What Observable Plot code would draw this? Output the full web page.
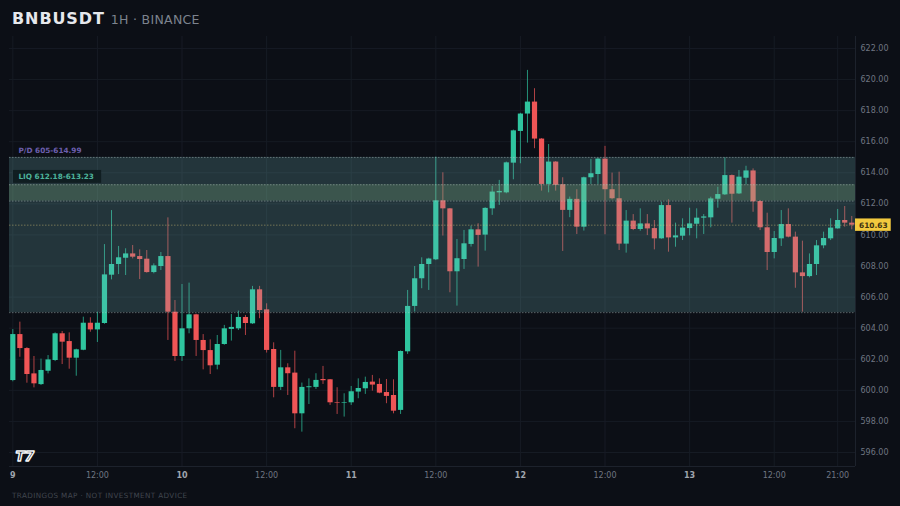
<!DOCTYPE html>
<html>
<head>
<meta charset="utf-8">
<script src="https://cdn.jsdelivr.net/npm/d3@7"></script>
<script src="https://cdn.jsdelivr.net/npm/@observablehq/plot@0.6"></script>
<style>
html,body{margin:0;padding:0;background:#0c0f16;width:900px;height:506px;overflow:hidden;font-family:"DejaVu Sans",sans-serif}
#head{height:36px;box-sizing:border-box;padding:10px 0 0 12px;white-space:nowrap;line-height:18px}
#sym{font-size:16px;font-weight:700;letter-spacing:.9px;color:#e6e8ec}
#sub{font-size:12.5px;letter-spacing:.3px;color:#7d838e;margin-left:6px}
#foot{height:22px;box-sizing:border-box;padding:7px 0 0 12px;font-size:7.2px;letter-spacing:.4px;color:#41464f;line-height:10px;white-space:nowrap}
svg{display:block}
</style>
</head>
<body>
<div id="head"><span id="sym">BNBUSDT</span><span id="sub">1H · BINANCE</span></div>
<div id="chart"></div>
<div id="foot">TRADINGOS MAP · NOT INVESTMENT ADVICE</div>
<script>
const opens = [600.63,603.59,602.69,601.06,600.37,601.23,601.92,603.64,603.14,602.07,602.58,604.32,603.89,604.30,607.41,608.10,608.50,608.78,608.61,608.44,
607.58,607.97,608.61,605.03,602.18,603.96,604.86,603.21,602.56,601.62,602.95,603.92,603.96,604.69,604.28,606.47,605.18,602.63,600.19,601.45,
601.11,598.49,600.17,600.19,600.70,600.68,599.22,599.18,599.20,599.89,600.10,600.53,600.38,599.86,599.67,598.71,602.48,605.40,607.18,608.10,
608.40,612.20,611.68,607.63,608.42,609.39,610.33,609.99,611.68,612.71,612.71,614.62,616.66,617.78,618.55,616.17,613.25,614.69,613.23,611.58,
612.29,610.50,613.68,613.89,614.88,612.91,612.33,609.41,610.89,610.35,610.71,610.41,609.75,611.89,609.81,609.92,610.41,610.69,611.08,611.10,
612.30,612.58,613.82,612.64,613.65,614.12,612.15,610.46,608.87,609.75,610.67,609.86,607.56,607.32,608.10,609.30,609.75,610.39,610.93,610.76];
const highs = [603.91,604.39,602.75,602.18,602.01,602.24,603.70,603.79,603.70,602.65,604.71,604.67,605.03,609.38,611.57,609.26,609.11,609.32,609.04,609.00,
608.14,608.87,611.10,605.78,606.81,606.90,604.90,603.59,603.25,603.53,604.18,604.88,605.10,604.82,606.69,606.69,605.57,603.06,602.57,601.71,
602.52,600.47,600.74,601.07,601.54,600.70,600.17,599.78,600.25,600.74,600.85,600.96,600.74,600.70,600.68,602.54,606.43,607.97,608.53,608.50,
615.01,614.00,611.70,609.71,610.29,610.57,610.72,611.75,613.12,613.51,614.69,616.75,617.83,620.59,619.41,616.20,615.82,614.72,613.68,612.44,
612.91,613.72,614.86,614.92,615.70,613.98,614.04,611.57,611.31,611.68,611.31,610.93,612.11,612.26,610.76,611.04,611.72,611.68,611.31,612.43,
613.07,614.96,613.86,614.15,614.42,614.25,612.22,611.40,610.22,611.57,611.68,610.18,609.60,608.78,609.64,610.18,611.04,611.64,611.83,611.19];
const lows = [600.55,602.13,600.46,600.16,600.31,601.06,601.85,601.66,601.36,600.91,602.55,603.74,603.08,604.25,607.11,607.45,607.39,608.46,607.13,607.54,
607.50,607.71,603.21,601.86,601.86,603.64,602.18,601.32,601.02,601.32,602.90,603.17,603.85,603.53,604.24,604.61,602.40,599.52,599.99,599.67,
597.53,597.31,599.09,600.06,600.38,599.03,598.45,598.28,599.03,599.46,599.74,599.95,599.78,599.14,598.49,598.45,602.31,605.04,606.54,606.43,
608.35,609.93,606.28,605.42,607.78,609.22,607.93,608.96,611.26,611.90,612.65,613.55,614.58,615.91,615.55,612.82,612.71,612.82,608.94,611.11,
610.03,610.25,613.25,613.25,610.01,612.26,609.00,608.83,610.28,610.24,609.96,609.04,609.72,608.89,609.21,609.64,609.94,609.75,610.03,610.46,
611.72,612.54,610.76,612.60,613.22,611.46,610.28,607.71,608.46,609.26,609.81,606.57,605.03,607.24,607.39,609.11,609.64,610.37,610.50,610.33];
const closes = [603.59,602.69,601.02,600.42,601.28,601.96,603.64,603.10,602.07,602.61,604.32,603.89,604.32,607.43,608.10,608.53,608.78,608.57,608.42,607.58,
608.01,608.61,605.03,602.18,603.96,604.86,603.21,602.56,601.58,602.95,603.96,604.05,604.69,604.30,606.47,605.14,602.57,600.19,601.45,601.07,
598.49,600.19,600.23,600.64,600.62,599.20,599.18,599.22,599.91,600.12,600.51,600.34,599.82,599.61,598.66,602.50,605.40,607.18,608.10,608.45,
612.20,611.68,607.63,608.47,609.43,610.33,609.97,611.71,612.76,612.80,614.64,616.70,617.78,618.55,616.17,613.25,614.69,613.19,611.58,612.29,
610.50,613.68,613.94,614.88,612.91,612.33,609.41,610.89,610.35,610.71,610.39,609.75,611.89,609.81,609.94,610.44,610.71,611.08,611.16,612.32,
612.60,613.82,612.62,613.72,614.12,612.13,610.46,608.87,609.77,610.67,609.86,607.56,607.32,608.10,609.30,609.77,610.44,610.93,610.76,610.63];

const dayTicks = [0,24,48,72,96];
const hourTicks = [12,36,60,84,108,117];
const priceTicks = [596,598,600,602,604,606,608,610,612,614,616,618,620,622];
const pdZone = {lo:605, hi:614.99};
const liqZone = {lo:612.18, hi:613.23};
const lastPrice = 610.63;

const at = h => new Date(Date.UTC(2025,0,9) + h*3600000);
const candles = opens.map((o,i)=>({t:at(i),open:o,high:highs[i],low:lows[i],close:closes[i],dir:closes[i]>=o?"up":"down"}));
const zoneLines = [pdZone.lo,pdZone.hi,liqZone.lo,liqZone.hi];
const labelFont = '"DejaVu Sans",sans-serif';

const chart = Plot.plot({
  width:900,height:448,marginTop:0,marginBottom:18,marginLeft:9,marginRight:45,
  style:{background:"transparent",fontFamily:labelFont,fontSize:"8px",overflow:"visible"},
  x:{type:"utc",domain:[at(-0.47),at(119.53)]},
  y:{domain:[595.10,622.77]},
  color:{domain:["up","down"],range:["#2fc59f","#ef5556"]},
  marks:[
    Plot.gridY(priceTicks,{stroke:"#161b24",strokeOpacity:1,strokeWidth:1}),
    Plot.gridX([...dayTicks,...hourTicks].map(at),{stroke:"#161b24",strokeOpacity:1,strokeWidth:1}),
    Plot.ruleX(candles,{x:"t",y1:"low",y2:"high",stroke:"dir",strokeWidth:1,strokeOpacity:.72}),
    Plot.ruleX(candles,{x:"t",y1:"open",y2:"close",stroke:"dir",strokeWidth:5.2}),
    Plot.rect([pdZone],{y1:"lo",y2:"hi",fill:"rgb(120,190,190)",fillOpacity:.22}),
    Plot.rect([liqZone],{y1:"lo",y2:"hi",fill:"rgb(130,185,130)",fillOpacity:.25}),
    Plot.ruleY(zoneLines,{stroke:"#c8d8d8",strokeOpacity:.5,strokeWidth:.8,strokeDasharray:"1.5,1.5"}),
    Plot.ruleY([lastPrice],{stroke:"#d8c878",strokeOpacity:.55,strokeWidth:.8,strokeDasharray:"1.5,1.5"}),
    Plot.ruleX([at(119.53)],{stroke:"#1d222c",strokeWidth:1}),
    Plot.ruleY([595.10],{stroke:"#1d222c",strokeWidth:1}),
    Plot.axisY(priceTicks,{anchor:"right",tickSize:0,tickPadding:5,label:null,tickFormat:d=>d.toFixed(2),fill:"#6f7682",fontSize:8}),
    Plot.axisX(hourTicks.map(at),{anchor:"bottom",tickSize:0,tickPadding:6,label:null,tickFormat:d=>d3.utcFormat("%H:%M")(d),fill:"#6f7682",fontSize:8}),
    Plot.axisX(dayTicks.map(at),{anchor:"bottom",tickSize:0,tickPadding:6,label:null,tickFormat:d=>String(d.getUTCDate()),fill:"#a0a5ae",fontSize:8,fontWeight:"bold"}),
    Plot.text(["P/D 605-614.99"],{x:at(0.8),y:615.44,text:d=>d,textAnchor:"start",fill:"#6c5fae",fontSize:7.3,fontWeight:"bold"}),
    Plot.rect([{a:at(0.1),b:at(12.6),lo:613.32,hi:614.15}],{x1:"a",x2:"b",y1:"lo",y2:"hi",fill:"#0f1c20",fillOpacity:.92}),
    Plot.text(["LIQ 612.18-613.23"],{x:at(0.8),y:613.72,text:d=>d,textAnchor:"start",fill:"#4db39b",fontSize:7.3,fontWeight:"bold"}),
    Plot.rect([{a:at(119.53),b:at(124.6),lo:lastPrice-.4,hi:lastPrice+.4}],{x1:"a",x2:"b",y1:"lo",y2:"hi",fill:"#f2c93e",clip:false}),
    Plot.text([lastPrice],{x:at(122.05),y:lastPrice,text:d=>d.toFixed(2),fill:"#3b3110",fontSize:7.4,fontWeight:"bold"}),
    Plot.text(["T7"],{x:at(1.7),y:595.75,text:d=>d,fill:"#0c0f16",stroke:"#f4f5f7",strokeWidth:1.4,fontSize:13.5,fontWeight:"bold",fontStyle:"italic",paintOrder:"fill"})
  ]
});
document.getElementById("chart").appendChild(chart);
</script>
</body>
</html>
